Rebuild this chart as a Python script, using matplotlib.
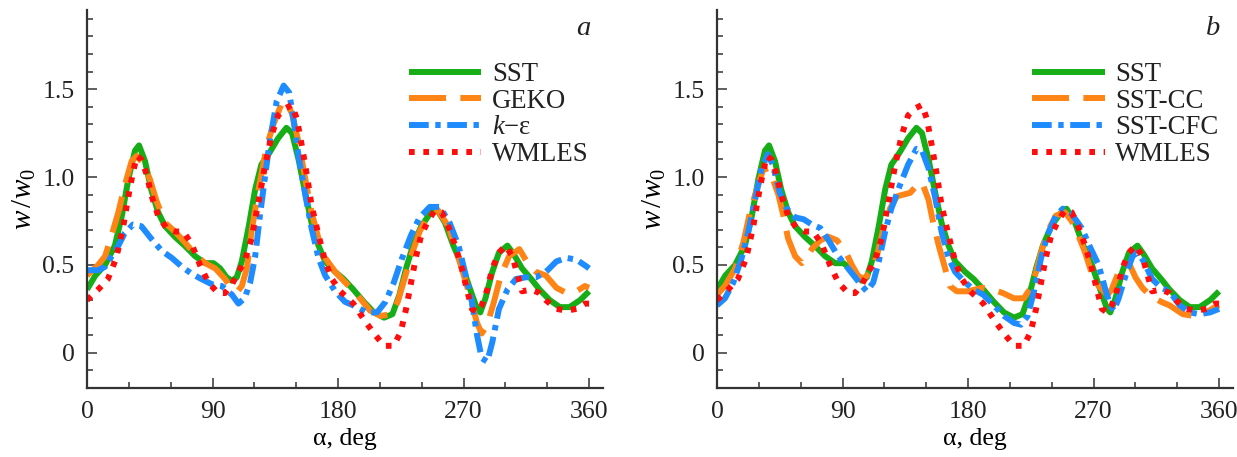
import matplotlib.pyplot as plt
from matplotlib.ticker import FixedLocator, MultipleLocator

# --- data (alpha in deg, w/w0) ---
sst_alpha = [0, 6, 13, 20, 25, 29.7, 34.4, 37.3, 41.6, 46, 51, 56, 63, 70, 77.5, 84.7, 90.7, 95.5,
             100, 104, 107.4, 111, 116, 120.6, 125, 131, 137, 143, 147, 151.7, 156.5, 161, 166,
             170.8, 178, 184, 191, 198.5, 205.8, 213, 219, 224, 228.8, 233.7, 239.7, 245.8, 250.6,
             256.7, 262.7, 268.8, 274.8, 279.7, 282, 285.7, 290.6, 295.4, 301.5, 306, 312, 318.5,
             324.5, 331.8, 339, 346, 353.6, 360]
sst_w = [0.36, 0.44, 0.50, 0.61, 0.78, 0.99, 1.15, 1.18, 1.09, 0.93, 0.80, 0.72, 0.66, 0.61, 0.55,
         0.51, 0.51, 0.48, 0.43, 0.41, 0.43, 0.52, 0.72, 0.93, 1.07, 1.14, 1.22, 1.28, 1.25, 1.10,
         0.91, 0.74, 0.61, 0.52, 0.46, 0.42, 0.36, 0.29, 0.23, 0.20, 0.22, 0.33, 0.48, 0.61, 0.72,
         0.79, 0.82, 0.74, 0.61, 0.50, 0.36, 0.25, 0.23, 0.31, 0.46, 0.57, 0.61, 0.56, 0.48, 0.42,
         0.36, 0.30, 0.26, 0.26, 0.30, 0.35]

geko_alpha = [0, 8, 13, 17.7, 22.5, 27, 32, 35.6, 40, 45, 50, 56, 63, 70, 77.5, 84.7, 92, 99, 104,
              108, 111, 114.6, 118, 123, 129, 133.7, 139.7, 143, 147, 151.7, 156.5, 161, 166, 170.8,
              178, 184, 193.7, 203, 210.6, 218, 222.8, 227.6, 232.4, 238.5, 244.6, 251.8, 259,
              266.4, 273.6, 279.7, 283, 287, 291.8, 296.7, 302.7, 310, 316, 322, 329, 336.6, 343.9,
              351, 357, 360]
geko_w = [0.44, 0.50, 0.55, 0.67, 0.80, 0.95, 1.09, 1.12, 1.08, 0.99, 0.86, 0.74, 0.69, 0.63, 0.56,
          0.51, 0.48, 0.42, 0.36, 0.35, 0.38, 0.48, 0.69, 0.93, 1.18, 1.30, 1.42, 1.43, 1.36, 1.20,
          0.99, 0.80, 0.65, 0.54, 0.46, 0.41, 0.33, 0.24, 0.21, 0.22, 0.29, 0.42, 0.55, 0.69, 0.78,
          0.81, 0.72, 0.54, 0.35, 0.17, 0.11, 0.16, 0.29, 0.44, 0.55, 0.59, 0.51, 0.46, 0.44, 0.37,
          0.34, 0.35, 0.38, 0.37]

ke_alpha = [0, 8, 13, 17.7, 22.5, 27, 33, 39, 46, 53.6, 60.8, 68, 75, 82, 89.5, 96.7, 104, 108.6,
            113, 117, 120.6, 124, 127.8, 131, 136, 141, 145, 148, 151.7, 156.5, 161, 166, 170.8,
            178, 185, 191, 200.6, 208, 214, 220, 226, 232.4, 238.5, 245.8, 253, 260, 266.4, 271,
            276, 279.7, 283, 287, 290.6, 295.4, 301.5, 307.6, 315, 322, 329, 336.6, 343.9, 351,
            358.4, 360]
ke_w = [0.47, 0.47, 0.49, 0.55, 0.61, 0.68, 0.73, 0.72, 0.65, 0.58, 0.54, 0.49, 0.45, 0.42, 0.39,
        0.38, 0.33, 0.28, 0.31, 0.40, 0.55, 0.78, 1.01, 1.20, 1.43, 1.52, 1.48, 1.33, 1.12, 0.90,
        0.71, 0.54, 0.44, 0.35, 0.29, 0.27, 0.23, 0.23, 0.29, 0.40, 0.54, 0.67, 0.77, 0.83, 0.83,
        0.74, 0.61, 0.46, 0.29, 0.10, -0.03, -0.05, 0.06, 0.25, 0.36, 0.42, 0.43, 0.43, 0.46,
        0.52, 0.54, 0.53, 0.49, 0.48]

wmles_alpha = [0, 8, 15, 21, 26, 31, 35.6, 39, 43, 46, 51, 57, 63, 69, 75, 81, 87, 94, 99, 104,
               108.6, 113, 118, 123, 127.8, 132.5, 137, 142, 147, 150.5, 154, 157.7, 161, 166,
               170.8, 175.6, 181.6, 191, 198.5, 205.8, 213, 220, 225, 228.8, 232.4, 236, 239.7,
               244.6, 249.4, 254.3, 259, 264, 268.8, 272.4, 276, 279.7, 283, 287, 290.6, 295.4,
               300, 305, 308.8, 312, 318.5, 324.5, 329, 336.6, 343.9, 351, 357, 360]
wmles_w = [0.30, 0.36, 0.42, 0.54, 0.72, 0.95, 1.12, 1.10, 1.01, 0.90, 0.78, 0.71, 0.69, 0.69, 0.62,
           0.50, 0.40, 0.34, 0.34, 0.39, 0.46, 0.52, 0.65, 0.86, 1.07, 1.24, 1.35, 1.39, 1.41, 1.33,
           1.18, 1.01, 0.84, 0.67, 0.52, 0.42, 0.35, 0.28, 0.19, 0.11, 0.04, 0.04, 0.12, 0.25, 0.40,
           0.55, 0.67, 0.75, 0.81, 0.80, 0.72, 0.61, 0.48, 0.36, 0.25, 0.23, 0.27, 0.36, 0.48, 0.57,
           0.61, 0.55, 0.44, 0.35, 0.36, 0.34, 0.30, 0.25, 0.24, 0.25, 0.28, 0.28]

sstcc_alpha = [0, 5.7, 13, 19, 23.7, 28.5, 33, 36.8, 40, 44, 47.6, 51, 56, 60.8, 64, 68, 74, 80, 86,
               92, 96.7, 101, 105, 110, 114.6, 119.4, 124, 129, 133.7, 138.5, 143, 147, 151.7, 155,
               159, 163.6, 167, 172, 180, 190, 198, 205, 213, 220, 225, 228.8, 232.4, 237, 243,
               249.4, 254.3, 259, 264, 268.8, 273.6, 280, 283, 287, 292, 296, 300, 305, 310, 318.5,
               324.5, 334, 341.5, 348.8, 357, 360]
sstcc_w = [0.33, 0.38, 0.48, 0.63, 0.80, 0.93, 1.04, 1.05, 0.99, 0.90, 0.78, 0.65, 0.55, 0.51, 0.54,
           0.59, 0.64, 0.66, 0.64, 0.58, 0.50, 0.44, 0.42, 0.46, 0.55, 0.71, 0.82, 0.89, 0.90, 0.91,
           0.95, 0.97, 0.87, 0.74, 0.61, 0.48, 0.38, 0.35, 0.35, 0.37, 0.36, 0.34, 0.31, 0.31, 0.37,
           0.46, 0.57, 0.69, 0.78, 0.80, 0.75, 0.67, 0.57, 0.45, 0.38, 0.33, 0.36, 0.44, 0.51, 0.50,
           0.43, 0.37, 0.33, 0.29, 0.27, 0.22, 0.21, 0.22, 0.26, 0.27]

sstcfc_alpha = [0, 5.7, 11.7, 17.7, 22.5, 27, 32, 36.4, 40, 45, 50, 56, 62, 68, 74, 80, 86, 92, 98,
                104, 107.4, 112, 116, 120.6, 125, 131, 137, 143, 147, 151.7, 156.5, 161, 166, 170.8,
                178, 184, 191, 198.5, 205.8, 213, 218, 222.8, 227.6, 232.4, 237, 243, 248, 254.3,
                261.5, 267.6, 273.6, 278.5, 282, 284.5, 288, 293, 298, 301.5, 306, 312, 318.5,
                324.5, 331.8, 339, 346, 353.6, 360]
sstcfc_w = [0.27, 0.31, 0.40, 0.54, 0.69, 0.86, 1.05, 1.13, 1.07, 0.91, 0.82, 0.77, 0.76, 0.73,
            0.71, 0.64, 0.56, 0.50, 0.44, 0.38, 0.35, 0.40, 0.52, 0.69, 0.82, 0.95, 1.07, 1.16,
            1.15, 1.05, 0.88, 0.69, 0.54, 0.46, 0.40, 0.36, 0.33, 0.27, 0.21, 0.17, 0.16, 0.21,
            0.36, 0.54, 0.67, 0.78, 0.82, 0.79, 0.71, 0.60, 0.50, 0.36, 0.27, 0.24, 0.31, 0.44,
            0.55, 0.57, 0.52, 0.42, 0.37, 0.35, 0.27, 0.23, 0.22, 0.23, 0.25]

x_major = [0, 90, 180, 270, 360]
y_major = [0, 0.5, 1.0, 1.5]
y_labels = ["0", "0.5", "1.0", "1.5"]

GREEN, ORANGE, BLUE, RED = "#16ad16", "#ff8416", "#1e8cff", "#ff0c0c"
DASH = (6.2, 2.4)
DASHDOT = (3.3, 1.1, 0.9, 1.1)
DOT = (0.95, 1.45)

plt.rcParams["font.family"] = ["Liberation Serif", "DejaVu Serif"]
plt.rcParams["mathtext.fontset"] = "custom"
plt.rcParams["mathtext.rm"] = "Liberation Serif"
plt.rcParams["mathtext.it"] = "Liberation Serif:italic"
plt.rcParams["text.color"] = "#222222"

FS = 18.5
LW = 4.3


def draw_panel(ax, series, tag):
    for a, w, c, ls, lab in series:
        ax.plot(a, w, color=c, lw=LW, dashes=ls, label=lab,
                dash_capstyle="butt", solid_capstyle="butt",
                dash_joinstyle="round", solid_joinstyle="round")
    ax.set_xlim(0, 370)
    ax.set_ylim(-0.2, 1.95)
    for s in ("top", "right"):
        ax.spines[s].set_visible(False)
    for s in ("left", "bottom"):
        ax.spines[s].set_linewidth(1.6)
        ax.spines[s].set_color("#333333")
    ax.xaxis.set_major_locator(FixedLocator(x_major))
    ax.xaxis.set_minor_locator(MultipleLocator(30))
    ax.set_yticks(y_major, y_labels)
    ax.yaxis.set_minor_locator(MultipleLocator(0.1))
    ax.tick_params(which="both", direction="in", color="#333333", width=1.1,
                   labelsize=FS, labelcolor="#222222", pad=9)
    ax.tick_params(which="major", length=7)
    ax.tick_params(which="minor", length=4)
    ax.set_xlabel("α, deg", fontsize=FS, labelpad=4)
    ax.set_ylabel(r"$w\,/w_0$", fontsize=FS + 2.5, labelpad=3)
    ax.text(0.962, 0.95, tag, transform=ax.transAxes, ha="center", va="center",
            style="italic", fontsize=FS + 2)
    ax.legend(loc="upper right", bbox_to_anchor=(0.972, 0.862), frameon=False,
              fontsize=FS + 0.8, handlelength=2.7, handletextpad=0.4,
              labelspacing=0.06, borderaxespad=0, borderpad=0)


fig = plt.figure(figsize=(12.37, 4.57), dpi=100)
ax_a = fig.add_axes([87 / 1237, 69 / 457, 516 / 1237, 378 / 457])
ax_b = fig.add_axes([717 / 1237, 69 / 457, 516 / 1237, 378 / 457])

draw_panel(ax_a, [
    (sst_alpha, sst_w, GREEN, (None, None), "SST"),
    (geko_alpha, geko_w, ORANGE, DASH, "GEKO"),
    (ke_alpha, ke_w, BLUE, DASHDOT, r"$k$" + "\u2212ε"),
    (wmles_alpha, wmles_w, RED, DOT, "WMLES"),
], "a")

draw_panel(ax_b, [
    (sst_alpha, sst_w, GREEN, (None, None), "SST"),
    (sstcc_alpha, sstcc_w, ORANGE, DASH, "SST-CC"),
    (sstcfc_alpha, sstcfc_w, BLUE, DASHDOT, "SST-CFC"),
    (wmles_alpha, wmles_w, RED, DOT, "WMLES"),
], "b")

fig.savefig("out.png", dpi=100)
